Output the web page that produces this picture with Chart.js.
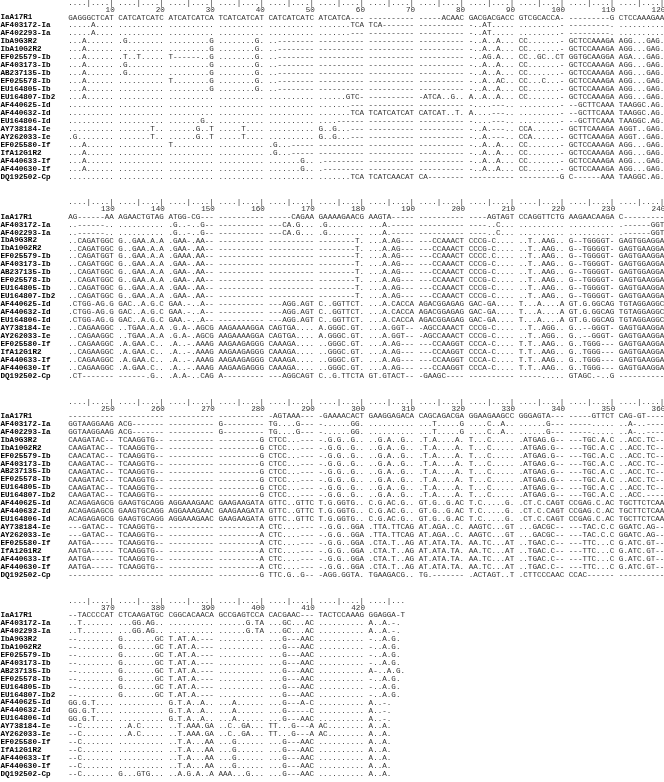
<!DOCTYPE html>
<html><head><meta charset="utf-8">
<script src="https://cdn.jsdelivr.net/npm/chart.js@4/dist/chart.umd.min.js"></script>
<style>html,body{margin:0;padding:0;background:#fff}#wrap{width:664px;height:782px}</style>
</head><body><div id="wrap"><canvas id="c" width="664" height="782"></canvas></div>
<script>
const names = ["IaA17R1","AF403172-Ia","AF402293-Ia","IbA9G3R2","IbA10G2R2","EF025579-Ib","AF403173-Ib","AB237135-Ib","EF025578-Ib","EU164805-Ib","EU164807-Ib2","AF440625-Id","AF440632-Id","EU164806-Id","AY738184-Ie","AY262033-Ie","EF025580-If","IfA12G1R2","AF440633-If","AF440630-If","DQ192502-Cp"];

const block1 = [
"GAGGGCTCAT CATCATCATC ATCATCATCA TCATCATCAT CATCATCATC ATCATCA--- ---------- -----ACAAC GACGACGACC GTCGCACCA- ---------G CTCCAAAGAA",
".....A.... .......... .......... .......... .......... .......TCA TCA------- ---------- -..AT..... .........- ---------. ..........",
".....A.... .......... .......... .......... .......... .......--- ---------- ---------- -..AT..... .........- ---------. ..........",
"...A...... .G........ .........G ........G. ..-------- ---------- ---------- ---------- -..A..A... CC.......- GCTCCAAAGA AGG...GAG.",
"...A...... .......... .........G ........G. ..-------- ---------- ---------- ---------- -..A..A... CC.......- GCTCCAAAGA AGG...GAG.",
"...A...... .T..T..... T------..G ........G. ..-------- ---------- ---------- ---------- -..AG.A... CC..GC..CT GGTGCAAGGA AGA...GAG.",
"...A...... .G........ .........G ........G. ..-------- ---------- ---------- ---------- -..A..A... CC.......- GCTCCAAAGA AGG...GAG.",
"...A...... .G........ .........G ........G. ..-------- ---------- ---------- ---------- -..A..A... CC.......- GCTCCAAAGA AGG...GAG.",
"...A...... .......... T........G ........G. ..-------- ---------- ---------- ---------- -..A..AC.. CC...C...- GCTCCAAAGA AGG...GAG.",
"...A...... .......... .........G ........G. ..-------- ---------- ---------- ---------- -..A..A... CC.......- GCTCCAAAGA AGG...GAG.",
"...A...... .......... .......... .......... .......... ......GTC- ---------- -ATCA..G.. A..A..A... CC.......- GCTCCAAAGA AGG...GAG.",
".......... .......... .......... .......... .......... .......--- ---------- ---------- -....---.. .........- --GCTTCAAA TAAGGC.AG.",
".......... .......... .......... .......... .......... .......TCA TCATCATCAT CATCAT..T. A....---.. .........- --GCTTCAAA TAAGGC.AG.",
".......... .......... .......G.. .......... .......... ....------ ---------- ---------- -....---.. .........- --GCTTCAAA TAAGGC.AG.",
".......... .......T.. ......G..T .....T.... .......... G..G...--- ---------- ---------- -..A.---.. CCA......- GCTTCAAAGA AGGT..GAG.",
".G........ .......T.. ......G..T .....T.... .......... G..G...--- ---------- ---------- -..A.---.. CCA......- GCTTCAAAGA AGGT..GAG.",
"...A...... .......... T......... .......... .G...----- ---------- ---------- ---------- -..A..A... CC.......- GCTCCAAAGA AGG...GAG.",
"...A...... .......... .......... .......... .G...----- ---------- ---------- ---------- -..A..A... CC.......- GCTCCAAAGA AGG...GAG.",
"...A...... .......... .......... .......... .......G.. .--------- ---------- ---------- -..A..A... CC.......- GCTCCAAAGA AGG...GAG.",
"...A...... .......... .......... .......... .......G.. .--------- ---------- ---------- -..A..A... CC.......- GCTCCAAAGA AGG...GAG.",
".......... .......... .......... .......... .......... .......TCA TCATCAACAT CA-------- ---------- ---------G C------AAA TAAGGC.AG."
];

const block2 = [
"AG------AA AGAACTGTAG ATGG-CG--- ---------- -----CAGAA GAAAAGAACG AAGTA----- ---------- ----AGTAGT CCAGGTTCTG AAGAACAAGA C---------",
"..------.. .......... .G..-..G-- ---------- ---CA.G... .G........ ...A.----- ---------- ----..C... .......... .......... .------GGT",
"..------.. .......... .G..-..G-- ---------- ---CA.G... .G........ ...A.----- ---------- ----..C... .......... .......... .------GGT",
"..CAGATGGC G..GAA.A.A .GAA-.AA-- ---------- ---------- --------T. ...A.AG--- ---CCAAACT CCCG-C.... ..T..AAG.. G--TGGGGT- GAGTGGAGGA",
"..CAGATGGC G..GAA.A.A .GAA-.AA-- ---------- ---------- --------T. ...A.AG--- ---CCAAACT CCCG-C.... ..T..AAG.. G--TGGGGT- GAGTGAAGGA",
"..CAGATGGT G..GAA.A.A .GAAA.AA-- ---------- ---------- --------T. ...A.AG--- ---CCAAACT CCCC.C.... ..T..AAG.. G--TGGGGT- GAGTGAAGGA",
"..CAGATGGC G..GAA.A.A .GAA-.AA-- ---------- ---------- --------T. ...A.AG--- ---CCAAACT CCCG-C.... ..T..AAG.. G--TGGGGT- GAGTGGAGGA",
"..CAGATGGC G..GAA.A.A .GAA-.AA-- ---------- ---------- --------T. ...A.AG--- ---CCAAACT CCCG-C.... ..T..AAG.. G--TGGGGT- GAGTGGAGGA",
"..CAGATGGC G..GAA.A.A .GAA-.AA-- ---------- ---------- --------T. ...A.AG--- ---CCAAACT CCCG-C.... ..T..AAG.. G--TGGGGT- GAGTGAAGGA",
"..CAGATGGC G..GAA.A.A .GAA-.AA-- ---------- ---------- --------T. ...A.AG--- ---CCAAACT CCCG-C.... ..T..AAG.. G--TGGGGT- GAGTGAAGGA",
"..CAGATGGC G..GAA.A.A .GAA-.AA-- ---------- ---------- --------T. ...A.AG--- ---CCAAACT CCCG-C.... ..T..AAG.. G--TGGGGT- GAGTGAAGGA",
".CTGG-AG.G GAC..A.G.C GAA.-..A-- ---------- ---AGG.AGT C..GGTTCT. ...A.CACCA AGACGGAGAG GAC-GA.... T...A....A GT.G.GGCAG TGTAGGAGGC",
".CTGG-AG.G GAC..A.G.C GAA.-..A-- ---------- ---AGG.AGT C..GGTTCT. ...A.CACCA AGACGGAGAG GAC-GA.... T...A....A GT.G.GGCAG TGTAGGAGGC",
".CTGG-AG.G GAC..A.G.C GAA.-..A-- ---------- ---AGG.AGT C..GGTTCT. ...A.CACCA AGACGGAGAG GAC-GA.... T...A....A GT.G.GGCAG TGTAGGAGGC",
"..CAGAAGGC ..TGAA.A.A .G.A-.AGCG AAGAAAAGGA CAGTGA.... A.GGGC.GT. ...A.GGT-- -AGCCAAACT CCCG-C.... ..T..AGG.. G..--GGGT- GAGTGAAGGA",
"..CAGAAGGC ..TGAA.A.A .G.A-.AGCG AAGAAAAGGA CAGTGA.... A.GGGC.GT. ...A.GGT-- -AGCCAAACT CCCG-C.... ..T..AGG.. G..--GGGT- GAGTGAAGGA",
"..CAGAAGGC .A.GAA.C.. .A..-.AAAG AAGAAGAGGG CAAAGA.... ..GGGC.GT. ...A.AG--- ---CCAAGGT CCCA-C.... T.T..AAG.. G..TGGG--- GAGTGAAGGA",
"..CAGAAGGC .A.GAA.C.. .A..-.AAAG AAGAAGAGGG CAAAGA.... ..GGGC.GT. ...A.AG--- ---CCAAGGT CCCA-C.... T.T..AAG.. G..TGGG--- GAGTGAAGGA",
"..CAGAAGGC .A.GAA.C.. .A..-.AAAG AAGAAGAGGG CAAAGA.... ..GGGC.GT. ...A.AG--- ---CCAAGGT CCCA-C.... T.T..AAG.. G..TGGG--- GAGTGAAGGA",
"..CAGAAGGC .A.GAA.C.. .A..-.AAAG AAGAAGAGGG CAAAGA.... ..GGGC.GT. ...A.AG--- ---CCAAGGT CCCA-C.... T.T..AAG.. G..TGGG--- GAGTGAAGGA",
".CT------- ------.G.. .A.A-..CAG A--------- ---AGGCAGT C..G.TTCTA GT.GTACT-- -GAAGC---- ---------- -----..... GTAGC.-..G ----------"
];

const block3 = [
"---------- ---------- ---------- ---------- -AGTAAA--- -GAAAACACT GAAGGAGACA CAGCAGACGA GGAAGAAGCC GGGAGTA--- -----GTTCT CAG-GT----",
"GGTAAGGAAG ACG------- ---------- G--------- TG....G--- -......GG. .......... ...T.....G ....C..A.. ......G--- -----..... ..A-..----",
"GGTAAGGAAG ACG------- ---------- G--------- TG....G--- -......GG. .......... ...T.....G ....C..A.. ......G--- -----..... ..A-..----",
"CAAGATAC-- TCAAGGTG-- ---------- ---------G CTCC...--- -.G.G..G.. ..G.A..G.. .T.A....A. T...C..... .ATGAG.G-- ---TGC.A.C ..ACC.TC--",
"CAAGATAC-- TCAAGGTG-- ---------- ---------G CTCC...--- -.G.G..G.. ..G.A..G.. .T.A....A. T...C..... .ATGAG.G-- ---TGC.A.C ..ACC.TC--",
"CAACATAC-- TCAAGGTG-- ---------- ---------G CTCC...--- -.G.G..G.. ..G.A..G.. .T.A....A. T...C..... .ATGAG.G-- ---TGC.A.C ..ACC.TC--",
"CAAGATAC-- TCAAGGTG-- ---------- ---------G CTCC...--- -.G.G..G.. ..G.A..G.. .T.A....A. T...C..... .ATGAG.G-- ---TGC.A.C ..ACC.TC--",
"CAAGATAC-- TCAAGGTG-- ---------- ---------G CTCC...--- -.G.G..G.. ..G.A..G.. .T.A....A. T...C..... .ATGAG.G-- ---TGC.A.C ..ACC.TC--",
"CAAGATAC-- TCAAGGTG-- ---------- ---------G CTCC...--- -.G.G..G.. ..G.A..G.. .T.A....A. T...C..... .ATGAG.G-- ---TGC.A.C ..ACC.TC--",
"CAAGATAC-- TCAAGGTG-- ---------- ---------G CTCC...--- -.G.G..G.. ..G.A..G.. .T.A....A. T...C..... .ATGAG.G-- ---TGC.A.C ..ACC.TC--",
"CAAGATAC-- TCAAGGTG-- ---------- ---------G CTCC...--- -.G.G..G.. ..G.A..G.. .T.A....A. T...C..... .ATGAG.G-- ---TGC.A.C ..ACC.----",
"ACAGAGAGCG GAAGTGCAGG AGGAAAGAAC GAAGAAGATA GTTC..GTTC T.G.GGTG.. C.G.AC.G.. GT.G..G.AC T.C.....G. .CT.C.CAGT CCGAG.C.AC TGCTTCTCAA",
"ACAGAGAGCG GAAGTGCAGG AGGAAAGAAC GAAGAAGATA GTTC..GTTC T.G.GGTG.. C.G.AC.G.. GT.G..G.AC T.C.....G. .CT.C.CAGT CCGAG.C.AC TGCTTCTCAA",
"ACAGAGAGCG GAAGTGCAGG AGGAAAGAAC GAAGAAGATA GTTC..GTTC T.G.GGTG.. C.G.AC.G.. GT.G..G.AC T.C.....G. .CT.C.CAGT CCGAG.C.AC TGCTTCTCAA",
"---GATAC-- TCAAGGTG-- ---------- ---------A CTC....--- -.G.G..GGA .TTA.TTCAG AT.AGA..C. AAGTC...GT ...GACGC-- ---TAC.C.C GGATC.AG--",
"---GATAC-- TCAAGGTG-- ---------- ---------A CTC....--- -.G.G..GGA .TTA.TTCAG AT.AGA..C. AAGTC...GT ...GACGC-- ---TAC.C.C GGATC.AG--",
"AATGA----- TCAAGGTG-- ---------- ---------A CTC....--- -.G.G..GGA .CTA.T..AG AT.ATA.TA. AA.TC...AT ..TGAC.C-- ---TTC...C G.ATC.GT--",
"AATGA----- TCAAGGTG-- ---------- ---------A CTC....--- -.G.G..GGA .CTA.T..AG AT.ATA.TA. AA.TC...AT ..TGAC.C-- ---TTC...C G.ATC.GT--",
"AATGA----- TCAAGGTG-- ---------- ---------A CTC....--- -.G.G..GGA .CTA.T..AG AT.ATA.TA. AA.TC...AT ..TGAC.C-- ---TTC...C G.ATC.GT--",
"AATGA----- TCAAGGTG-- ---------- ---------A CTC....--- -.G.G..GGA .CTA.T..AG AT.ATA.TA. AA.TC...AT ..TGAC.C-- ---TTC...C G.ATC.GT--",
"---------- ---------- ---------- ---------G TTC.G..G-- -AGG.GGTA. TGAAGACG.. TG.------- .ACTAGT..T .CTTCCCAAC CCAC------ ----------"
];

const block4 = [
"--TACCCCAT CTCAAGATGC CGGCACAACA GCCGAGTCCA CACGAAC--- TACTCCAAAG GGAGGA-T",
"..T....... ...GG.AG.. .......... ......G.TA ...GC...AC .......... A..A.-.",
"..T....... ...GG.AG.. .......... ......G.TA ...GC...AC .......... A..A.-.",
"--........ G.......GC T.AT.A.--- .......... ...G---AAC .......... -..A.G.",
"--........ G.......GC T.AT.A.--- .......... ...G---AAC .......... -..A.G.",
"--........ G.......GC T.AT.A.--- .......... ...G---AAC .......... -..A.G.",
"--........ G.......GC T.AT.A.--- .......... ...G---AAC .......... -..A.G.",
"--........ G.......GC T.AT.A.--- .......... ...G---AAC .......... A-..A.G.",
"--........ G.......GC T.AT.A.--- .......... ...G---AAC .......... -..A.G.",
"--........ G.......GC T.AT.A.--- .......... ...G---AAC .......... -..A.G.",
"--........ G.......GC T.AT.A.--- .......... ...G---AAC .......... -..A.G.",
"GG.G.T.... .......... G.T.A..A.. ...A...... ...G---A-C .......... A..-.",
"GG.G.T.... .......... G.T.A..A.. ...A...... ...G-----C .......... A..-.",
"GG.G.T.... .......... G.T.A..A.. ...A...... ...G---AAC .......... A..-.",
"--C....... ..A.C..... ..T.AAA.GA ..C..GA... TT...G---A AC........ A..A.",
"--C....... ..A.C..... ..T.AAA.GA ..C..GA... TT...G---A AC........ A..A.",
"--C....... .......... ..T.A...AA ...G...... ...G---AAC .......... A..A.",
"--C....... .......... ..T.A...AA ...G...... ...G---AAC .......... A..A.",
"--C....... .......... ..T.A...AA ...G...... ...G---AAC .......... A..A.",
"--C....... .......... ..T.A...AA ...G...... ...G---AAC .......... A..A.",
"--C....... G...GTG... ..A.G.A..A AAA...G... ...G---AAC .......... A..A."
];

const blocks = [block1, block2, block3, block4];
const blockStart = [1, 121, 241, 361];
const ticks1 = [10,20,30,40,50,60,70,80,90,100,110,120];
const ticks2 = [130,140,150,160,170,180,190,200,210,220,230,240];
const ticks3 = [250,260,270,280,290,300,310,320,330,340,350,360];
const ticks4 = [370,380,390,400,410,420];
const tickSets = [ticks1, ticks2, ticks3, ticks4];
const rulerLen = [120, 120, 120, 68];

const LINES_PER_BLOCK = 25;
const NAME_COL = -14.9;
function lineOf(b, i){ return b*LINES_PER_BLOCK + i; }

const textPlugin = {
  id: 'alignText',
  afterDatasetsDraw(chart){
    const ctx = chart.ctx;
    const xs = chart.scales.x, ys = chart.scales.y;
    const seqFont = '7.6px "Liberation Mono", "DejaVu Sans Mono", monospace';
    const nameFont = 'bold 7.6px "Liberation Mono", "DejaVu Sans Mono", monospace';
    ctx.save();
    ctx.textBaseline = 'middle';
    blocks.forEach((blk, b) => {
      const len = rulerLen[b];
      let ruler = '';
      for (let p = 1; p <= len; p++) {
        ruler += (p % 5 === 0) ? '|' : '.';
        if (p % 10 === 0 && p < len) ruler += ' ';
      }
      ctx.font = seqFont;
      ctx.fillStyle = '#333';
      ctx.textAlign = 'center';
      const yR = ys.getPixelForValue(lineOf(b,0) - 1.78);
      for (let c = 0; c < ruler.length; c++) {
        const ch = ruler[c];
        if (ch === ' ') continue;
        ctx.fillText(ch, xs.getPixelForValue(c + 0.5), yR);
      }
      const yN = ys.getPixelForValue(lineOf(b,0) - 0.9);
      ctx.textAlign = 'right';
      tickSets[b].forEach(t => {
        const p = t - blockStart[b] + 1;
        const col = (p - 1) + Math.floor((p - 1) / 10);
        ctx.fillText(String(t), xs.getPixelForValue(col + 1.2), yN);
      });
      blk.forEach((seq, i) => {
        const y = ys.getPixelForValue(lineOf(b, i));
        ctx.font = nameFont;
        ctx.fillStyle = '#000';
        ctx.textAlign = 'left';
        ctx.fillText(names[i], xs.getPixelForValue(NAME_COL), y);
        ctx.font = seqFont;
        ctx.fillStyle = '#333';
        ctx.textAlign = 'center';
        for (let c = 0; c < seq.length; c++) {
          const ch = seq[c];
          if (ch === ' ') continue;
          ctx.fillText(ch, xs.getPixelForValue(c + 0.5), y);
        }
      });
    });
    ctx.restore();
  }
};

const anchors = [];
blocks.forEach((blk, b) => blk.forEach((s, i) => anchors.push({x: 0, y: lineOf(b, i)})));

const CH = 4.55, LH = 7.966, Y0 = 17.5, X0 = 68.3;
new Chart(document.getElementById('c'), {
  type: 'scatter',
  data: { datasets: [{ data: anchors, pointRadius: 0, pointHoverRadius: 0, showLine: false }] },
  options: {
    responsive: false,
    animation: false,
    devicePixelRatio: 1,
    layout: { padding: 0 },
    plugins: { legend: { display: false }, tooltip: { enabled: false } },
    events: [],
    scales: {
      x: { type: 'linear', display: false, min: -X0 / CH, max: (664 - X0) / CH },
      y: { type: 'linear', display: false, reverse: true, min: -Y0 / LH, max: (782 - Y0) / LH }
    }
  },
  plugins: [textPlugin]
});
</script>
</body></html>
